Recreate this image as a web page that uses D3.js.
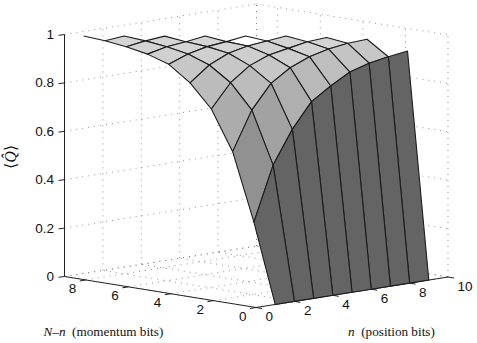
<!DOCTYPE html>
<html>
<head>
<meta charset="utf-8">
<script src="https://cdn.jsdelivr.net/npm/d3@7"></script>
<style>
html, body { margin: 0; background: #fff; }
svg { display: block; }
text { fill: #111; }
</style>
</head>
<body>
<svg width="477" height="343"></svg>
<script>
// rows are N-n = 0..9, each row runs over n = 1, 2, ... (triangle, n + (N-n) <= 10)
const q0 = [0, 0, 0, 0, 0, 0, 0, 0, 0];
const q1 = [0.326, 0.549, 0.684, 0.786, 0.838, 0.883, 0.907, 0.921, 0.932];
const q2 = [0.603, 0.762, 0.860, 0.912, 0.945, 0.964, 0.975, 0.979];
const q3 = [0.765, 0.861, 0.919, 0.950, 0.965, 0.980, 0.985];
const q4 = [0.859, 0.920, 0.956, 0.973, 0.981, 0.989];
const q5 = [0.921, 0.951, 0.969, 0.977, 0.988];
const q6 = [0.949, 0.967, 0.975, 0.986];
const q7 = [0.965, 0.977, 0.984];
const q8 = [0.976, 0.983];
const q9 = [0.981];
const rows = [q0, q1, q2, q3, q4, q5, q6, q7, q8, q9];

const nTicks = [0, 2, 4, 6, 8, 10];
const mTicks = [0, 2, 4, 6, 8];
const zTicks = [0, 0.2, 0.4, 0.6, 0.8, 1];

const svg = d3.select("svg");

// orthographic view
const front = [256, 307.5];
const nX = d3.scaleLinear().domain([0, 10]).range([0, 192]);
const nY = d3.scaleLinear().domain([0, 10]).range([0, -30.5]);
const mX = d3.scaleLinear().domain([0, 9]).range([0, -191.5]);
const mY = d3.scaleLinear().domain([0, 9]).range([0, -31]);
const zY = d3.scaleLinear().domain([0, 1]).range([0, -242]);

const project = (n, m, z) => [front[0] + nX(n) + mX(m), front[1] + nY(n) + mY(m) + zY(z)];
const line = d3.line();

/* dotted grid on the floor and the two back walls */
const grid = svg.append("g")
	.attr("fill", "none")
	.attr("stroke", "#777")
	.attr("stroke-width", 0.8)
	.attr("stroke-dasharray", "1 5");

const gridLine = pts => grid.append("path").attr("d", line(pts));

nTicks.forEach(n => {
	gridLine([project(n, 0, 0), project(n, 9, 0)]);
	gridLine([project(n, 9, 0), project(n, 9, 1)]);
});
mTicks.concat([9]).forEach(m => {
	gridLine([project(0, m, 0), project(10, m, 0)]);
	gridLine([project(10, m, 0), project(10, m, 1)]);
});
zTicks.forEach(z => {
	gridLine([project(0, 9, z), project(10, 9, z)]);
	gridLine([project(10, 9, z), project(10, 0, z)]);
});

/* axes */
const axes = svg.append("g")
	.attr("fill", "none")
	.attr("stroke", "#222")
	.attr("stroke-width", 1);

axes.append("path").attr("d", line([project(0, 9, 0), project(0, 9, 1)]));
axes.append("path").attr("d", line([project(0, 9, 0), project(0, 0, 0)]));
axes.append("path").attr("d", line([project(0, 0, 0), project(10, 0, 0)]));

zTicks.forEach(z => {
	const p = project(0, 9, z);
	axes.append("path").attr("d", line([p, [p[0] - 6, p[1] + 0.8]]));
});
mTicks.forEach(m => {
	const p = project(0, m, 0);
	axes.append("path").attr("d", line([p, [p[0] - 6, p[1] + 1]]));
});
nTicks.forEach(n => {
	const p = project(n, 0, 0);
	axes.append("path").attr("d", line([p, [p[0] + 6, p[1] + 1]]));
});

/* surface, far cells first. Flat facets are light, steep ones go dark */
const value = (n, m) => rows[m] ? rows[m][n - 1] : undefined;
const shade = d3.scaleLinear()
	.domain([0, 0.1, 0.2, 0.31, 0.42])
	.range([216, 190, 168, 145, 100])
	.clamp(true);

const cells = [];
rows.forEach((row, m) => {
	row.forEach((z, i) => {
		const n = i + 1;
		const c = [value(n, m), value(n + 1, m), value(n + 1, m + 1), value(n, m + 1)];
		if (c.some(v => v === undefined)) return;
		const dn = ((c[1] - c[0]) + (c[2] - c[3])) / 2;
		const dm = ((c[3] - c[0]) + (c[2] - c[1])) / 2;
		cells.push({n, m, c, slope: Math.hypot(dn, dm)});
	});
});
cells.sort((a, b) => (b.m + b.n) - (a.m + a.n) || b.m - a.m);

const surface = svg.append("g")
	.attr("stroke", "#1c1c1c")
	.attr("stroke-width", 1.1)
	.attr("stroke-linejoin", "round");

// edge with no cell attached at the far left end of the mesh
surface.append("path")
	.attr("fill", "none")
	.attr("d", line([project(1, 9, value(1, 9)), project(1, 8, value(1, 8))]));

surface.selectAll("polygon")
	.data(cells)
	.enter()
	.append("polygon")
		.attr("points", d => [
			project(d.n, d.m, d.c[0]),
			project(d.n + 1, d.m, d.c[1]),
			project(d.n + 1, d.m + 1, d.c[2]),
			project(d.n, d.m + 1, d.c[3])
		].join(" "))
		.attr("fill", d => {
			if (d.n === 4 && d.m === 4) return "#fff"; // highlight cell
			const g = Math.round(shade(d.slope));
			return d3.rgb(g, g, g);
		});

/* labels */
const labels = svg.append("g")
	.attr("font-family", "'Liberation Sans', Arial, sans-serif")
	.attr("font-size", "13.5px");

labels.selectAll(".z")
	.data(zTicks)
	.enter()
	.append("text")
		.attr("class", "z")
		.attr("x", d => project(0, 9, d)[0] - 10.5)
		.attr("y", d => project(0, 9, d)[1] + 4.5)
		.attr("text-anchor", "end")
		.text(d => d);

labels.selectAll(".m")
	.data(mTicks)
	.enter()
	.append("text")
		.attr("class", "m")
		.attr("x", d => project(0, d, 0)[0] - 13.3)
		.attr("y", d => project(0, d, 0)[1] + 13.5)
		.attr("text-anchor", "middle")
		.text(d => d);

labels.selectAll(".n")
	.data(nTicks)
	.enter()
	.append("text")
		.attr("class", "n")
		.attr("x", d => project(d, 0, 0)[0] + 9.5)
		.attr("y", d => project(d, 0, 0)[1] + 13.5)
		.text(d => d);

const serif = "'Liberation Serif', 'Times New Roman', serif";

const mLabel = svg.append("text")
	.attr("x", 43.5)
	.attr("y", 336)
	.attr("font-family", serif)
	.attr("font-size", "13.2px")
	.attr("xml:space", "preserve");
mLabel.append("tspan").attr("font-style", "italic").text("N\u2013n");
mLabel.append("tspan").text("  (momentum bits)");

const nLabel = svg.append("text")
	.attr("x", 348)
	.attr("y", 336)
	.attr("font-family", serif)
	.attr("font-size", "13.2px")
	.attr("xml:space", "preserve");
nLabel.append("tspan").attr("font-style", "italic").text("n");
nLabel.append("tspan").text("  (position bits)");

const zLabel = svg.append("text")
	.attr("transform", "translate(16,157) rotate(-90)")
	.attr("text-anchor", "middle")
	.attr("font-family", serif)
	.attr("font-size", "16px");
zLabel.append("tspan").text("\u27E8");
zLabel.append("tspan").attr("font-style", "italic").text("Q\u0302");
zLabel.append("tspan").text("\u27E9");
</script>
</body>
</html>
